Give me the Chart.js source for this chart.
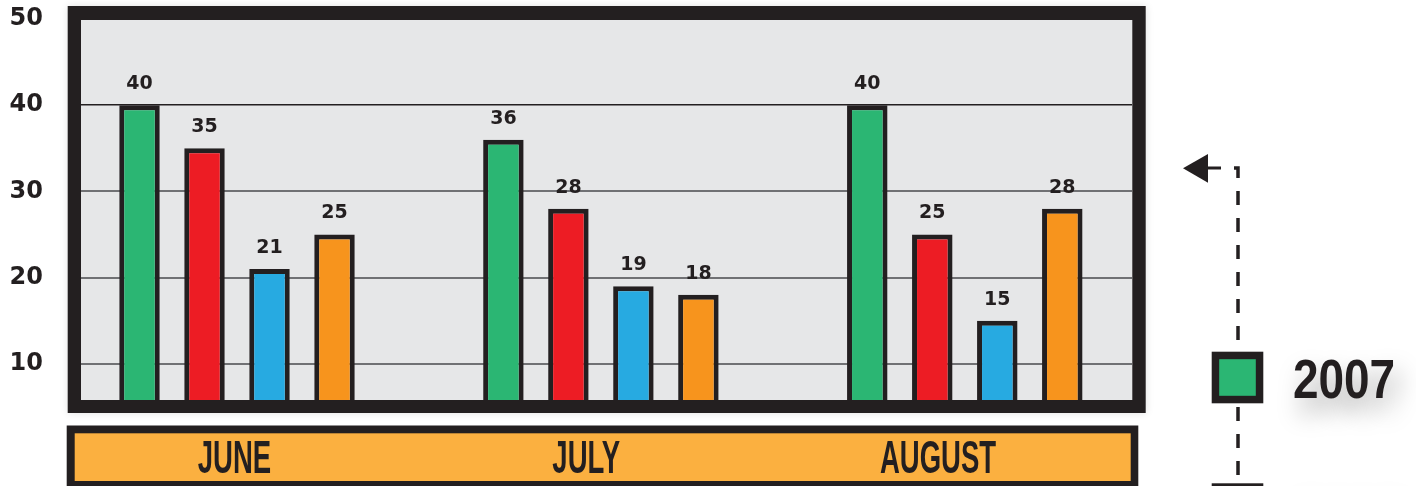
<!DOCTYPE html>
<html><head><meta charset="utf-8">
<script src="https://cdn.jsdelivr.net/npm/chart.js@4.4.1/dist/chart.umd.min.js"></script>
<style>html,body{margin:0;padding:0;background:#fff;overflow:hidden}#wrap{width:1416px;height:486px;position:relative}</style>
</head><body><div id="wrap"><canvas id="c" width="1416" height="486"></canvas></div>
<script>
// ---- data ----
const categories = ['JUNE', 'JULY', 'AUGUST'];
const seriesNames = ['2007', '2008', '2009', '2010'];
const s2007 = [40, 36, 40];
const s2008 = [35, 28, 25];
const s2009 = [21, 19, 15];
const s2010 = [25, 18, 28];
const yTickValues = [10, 20, 30, 40, 50];

// ---- styles ----
const DARK = '#231f20';
const seriesColors = ['#2bb673', '#ed1c24', '#27aae1', '#f7941d'];
const seriesValues = [s2007, s2008, s2009, s2010];

function hasFont(f) {
  const c = document.createElement('canvas').getContext('2d');
  c.font = 'bold 40px monospace';
  const a = c.measureText('JUNE 2007 mwi').width;
  c.font = 'bold 40px "' + f + '", monospace';
  return Math.abs(c.measureText('JUNE 2007 mwi').width - a) > 0.5;
}
const NARROW = hasFont('Liberation Sans Narrow');
const condFamily = NARROW ? '"Liberation Sans Narrow"' : '"Liberation Sans", Arial';
const condScale = NARROW ? 1 : 0.82;

const datasets = seriesValues.map((vals, i) => ({
  label: seriesNames[i],
  data: vals.map((v, j) => ({ x: j, y: v })),
  backgroundColor: seriesColors[i],
  borderColor: DARK,
  borderWidth: 5,
  borderSkipped: false,
  categoryPercentage: 0.7145,
  barPercentage: 0.623,
  xAxisID: 'x',
  yAxisID: 'y'
}));

const decorPlugin = {
  id: 'decor',
  beforeDraw(chart) {
    const ctx = chart.ctx;
    ctx.save();
    // plot frame
    ctx.shadowColor = 'rgba(0,0,0,0.12)';
    ctx.shadowBlur = 8;
    ctx.fillStyle = DARK;
    ctx.fillRect(67.7, 6, 1078, 407);
    ctx.shadowColor = 'transparent';
    ctx.fillStyle = '#e6e7e8';
    ctx.fillRect(81, 20, 1051.3, 380);
    // category band
    ctx.fillStyle = DARK;
    ctx.fillRect(66.7, 425.5, 1071.6, 64);
    ctx.fillStyle = '#fbb040';
    ctx.fillRect(74.7, 433.3, 1056, 47.7);
    ctx.restore();
  },
  afterDatasetsDraw(chart) {
    const ctx = chart.ctx;
    ctx.save();
    ctx.fillStyle = DARK;
    ctx.font = 'bold 19px "DejaVu Sans"';
    ctx.textAlign = 'center';
    ctx.textBaseline = 'middle';
    chart.data.datasets.forEach((ds, i) => {
      const meta = chart.getDatasetMeta(i);
      meta.data.forEach((bar, j) => {
        ctx.fillText(String(ds.data[j].y), bar.x, bar.y - 21);
      });
    });
    ctx.restore();
  },
  afterDraw(chart) {
    const ctx = chart.ctx;
    // month labels from the label axis
    const xs = chart.scales.xm;
    ctx.save();
    ctx.fillStyle = DARK;
    ctx.font = 'bold 46px ' + condFamily;
    ctx.textAlign = 'center';
    ctx.textBaseline = 'alphabetic';
    xs.ticks.forEach(t => {
      const px = xs.getPixelForValue(t.value);
      ctx.save();
      ctx.translate(px, 473);
      ctx.scale(0.73 * condScale, 1);
      ctx.fillText(categories[t.value], 0, 0);
      ctx.restore();
    });
    ctx.restore();

    // legend
    ctx.save();
    ctx.strokeStyle = DARK;
    ctx.lineWidth = 3.5;
    ctx.setLineDash([14, 13]);
    ctx.beginPath();
    ctx.moveTo(1234, 168);
    ctx.lineTo(1238, 168);
    ctx.lineTo(1238, 500);
    ctx.stroke();
    ctx.setLineDash([]);
    ctx.lineWidth = 3;
    ctx.beginPath();
    ctx.moveTo(1206, 168);
    ctx.lineTo(1221, 168);
    ctx.stroke();
    ctx.fillStyle = DARK;
    ctx.beginPath();
    ctx.moveTo(1183, 168.3);
    ctx.lineTo(1208, 154);
    ctx.lineTo(1208, 182.7);
    ctx.closePath();
    ctx.fill();

    chart.data.datasets.forEach((ds, i) => {
      const top = 351.7 + i * 131.6;
      ctx.fillStyle = DARK;
      ctx.fillRect(1211.7, top, 51.6, 51.6);
      ctx.fillStyle = ds.backgroundColor;
      ctx.fillRect(1219.2, top + 7.5, 36.6, 36.6);
      ctx.save();
      ctx.font = 'bold 56px ' + condFamily;
      ctx.textAlign = 'left';
      ctx.textBaseline = 'alphabetic';
      ctx.translate(1293, top + 46.3);
      ctx.scale(condScale, 1);
      ctx.shadowColor = 'rgba(0,0,0,0.35)';
      ctx.shadowBlur = 24;
      ctx.shadowOffsetX = 6;
      ctx.shadowOffsetY = 14;
      ctx.fillStyle = DARK;
      ctx.fillText(ds.label, 0, 0);
      ctx.restore();
    });
    ctx.restore();
  }
};

new Chart(document.getElementById('c'), {
  type: 'bar',
  data: { datasets },
  options: {
    responsive: false,
    animation: false,
    layout: { autoPadding: false, padding: { top: 19, right: 284, left: 0, bottom: 0 } },
    plugins: { legend: { display: false }, tooltip: { enabled: false } },
    scales: {
      x: {
        type: 'linear', min: -0.4287, max: 2.4595, display: false, offset: false,
        grid: { offset: false },
        afterBuildTicks: s => { s.ticks = categories.map((c, i) => ({ value: i })); }
      },
      xm: {
        type: 'linear', position: 'bottom', min: -0.4364, max: 2.5515, offset: false,
        grid: { display: false, offset: false }, border: { display: false },
        ticks: { display: false },
        afterBuildTicks: s => { s.ticks = categories.map((c, i) => ({ value: i })); },
        afterFit: s => { s.height = 86; }
      },
      y: {
        min: 5.8, max: 50,
        afterBuildTicks: s => { s.ticks = yTickValues.map(v => ({ value: v })); },
        afterFit: s => { s.width = 81; },
        grid: {
          drawTicks: true,
          tickLength: 38,
          tickColor: 'rgba(0,0,0,0)',
          color: c => c.tick && c.tick.value === 50 ? 'rgba(0,0,0,0)' : (c.tick && c.tick.value === 40 ? DARK : '#707174'),
          lineWidth: c => c.tick && c.tick.value === 40 ? 1.5 : 2
        },
        border: { display: false },
        ticks: {
          color: DARK, padding: 0,
          font: { family: '"DejaVu Sans"', weight: 'bold', size: 24 }
        }
      }
    }
  },
  plugins: [decorPlugin]
});
</script>
</body></html>
